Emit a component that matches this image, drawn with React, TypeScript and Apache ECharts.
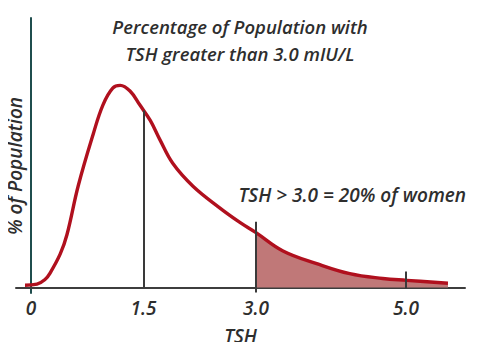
import React, { useEffect, useRef } from "react";
import * as echarts from "echarts";

// Curve: TSH value and relative % of population
const curveX = [-0.08, 0.08, 0.19, 0.25, 0.39, 0.48, 0.63, 0.83, 0.96, 1.09, 1.19, 1.32, 1.45, 1.59, 1.72, 1.89, 2.16, 2.52, 2.79, 3.0, 3.36, 3.81, 4.25, 4.69, 5.01, 5.56];
const curveY = [0.9, 1.3, 3.1, 5.2, 12.5, 19.7, 37.8, 57.0, 67.8, 74.0, 75.0, 72.9, 67.8, 62.0, 54.8, 46.1, 37.6, 29.5, 24.1, 20.4, 13.6, 8.9, 5.2, 3.4, 2.7, 1.6];

// Vertical marker lines
const markerX = [1.5, 3.0, 5.0];
const markerTop = [65.7, 24.4, 6.0];
const markerBottom = [0, -1.8, -0.5];

const tickValues = [0, 1.5, 3.0, 5.0];
const tickLabels = ["0", "1.5", "3.0", "5.0"];

const threshold = 3.0;
const titleLines = ["Percentage of Population with", "TSH greater than 3.0 mIU/L"];
const annotation = "TSH > 3.0 = 20% of women";
const xName = "TSH";
const yName = "% of Population";

const FONT = "'Open Sans', 'Noto Sans', sans-serif";
const TXT = "#2e2e2e";

export default function App() {
  const ref = useRef<HTMLDivElement>(null);
  useEffect(() => {
    if (!ref.current) return;
    const chart = echarts.init(ref.current, null, { renderer: "svg" });
    const curve = curveX.map((x, i) => [x, curveY[i]]);
    const fill = curve.filter((p) => p[0] >= threshold);
    const textBase = { fontFamily: FONT, fontStyle: "italic", fontWeight: 600 };
    chart.setOption({
      animation: false,
      backgroundColor: "#ffffff",
      grid: { left: 16, right: 15, top: 18, bottom: 50 },
      title: {
        text: titleLines.join("\n"),
        left: "center",
        top: 8,
        textStyle: { ...textBase, fontSize: 18.5, lineHeight: 27, color: TXT },
      },
      xAxis: {
        type: "value",
        min: -0.2,
        max: 5.787,
        name: xName,
        nameLocation: "middle",
        nameGap: 33,
        nameTextStyle: { ...textBase, fontSize: 19, color: TXT },
        axisLine: { onZero: true, lineStyle: { color: "#3d3d3d", width: 2 } },
        axisTick: { show: false },
        splitLine: { show: false },
        axisLabel: {
          customValues: tickValues,
          formatter: (v: number) => {
            const i = tickValues.findIndex((t) => Math.abs(t - v) < 1e-6);
            return i >= 0 ? tickLabels[i] : "";
          },
          ...textBase,
          fontSize: 19,
          color: TXT,
          margin: 5,
        },
      },
      yAxis: {
        type: "value",
        min: -2,
        max: 100,
        axisLine: { show: true, onZero: true, lineStyle: { color: "#1f4d4d", width: 2 } },
        axisTick: { show: false },
        axisLabel: { show: false },
        splitLine: { show: false },
      },
      graphic: [
        {
          type: "text",
          x: 15,
          y: 166,
          rotation: Math.PI / 2,
          style: {
            text: yName,
            ...textBase,
            fontSize: 19,
            fill: TXT,
            align: "center",
            verticalAlign: "middle",
          },
        },
        {
          type: "text",
          x: 466,
          y: 195,
          style: {
            text: annotation,
            ...textBase,
            fontSize: 19,
            fill: TXT,
            align: "right",
            verticalAlign: "middle",
          },
        },
      ],
      series: [
        {
          type: "line",
          data: fill,
          smooth: 0.4,
          showSymbol: false,
          lineStyle: { width: 0 },
          areaStyle: { color: "#c07878", opacity: 1 },
          z: 1,
        },
        {
          type: "line",
          data: curve,
          smooth: 0.4,
          showSymbol: false,
          lineStyle: { color: "#b0101e", width: 3.4 },
          z: 3,
          markLine: {
            silent: true,
            symbol: "none",
            label: { show: false },
            lineStyle: { color: "#3a3a3a", width: 2, type: "solid" },
            data: markerX.map((x, i) => [
              { coord: [x, markerBottom[i]] },
              { coord: [x, markerTop[i]] },
            ]),
          },
        },
      ],
    });
    return () => chart.dispose();
  }, []);
  return <div ref={ref} style={{ width: 480, height: 350, margin: -8 }} />;
}
